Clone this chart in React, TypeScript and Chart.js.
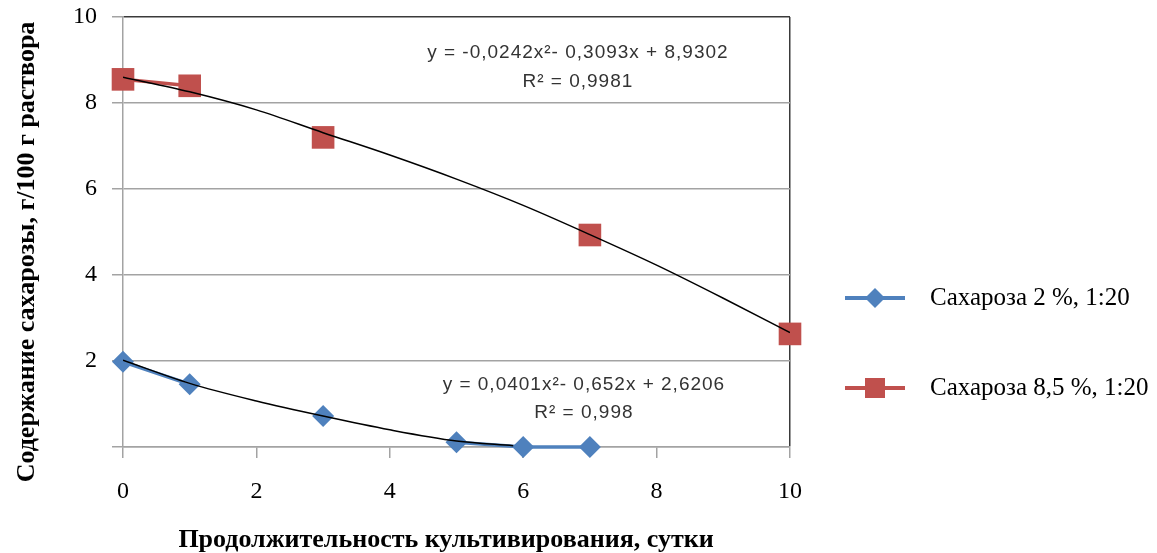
import React, { useEffect, useRef } from 'react';
import { Chart, registerables } from 'chart.js';

Chart.register(...registerables);

const days = [0, 1, 2, 3, 4, 5, 6, 7, 8, 9, 10];
const redValues = [8.55, 8.4, null, 7.2, null, null, null, 4.93, null, null, 2.63];
const blueValues = [1.98, 1.46, null, 0.72, null, 0.11, 0, 0, null, null, null];

const redTrendDays = [0, 1, 2, 3, 4, 5, 6, 7, 8, 9, 10];
const redTrendValues = [8.6, 8.26, 7.84, 7.31, 6.79, 6.23, 5.62, 4.94, 4.23, 3.46, 2.66];
const blueTrendDays = [0, 1, 2, 3, 4, 5, 5.85];
const blueTrendValues = [2.02, 1.48, 1.07, 0.72, 0.4, 0.14, 0.03];

const xTickValues = [0, 2, 4, 6, 8, 10];
const yTickValues = [2, 4, 6, 8, 10];

const seriesLabels = ['Сахароза 2 %, 1:20', 'Сахароза 8,5 %, 1:20'];
const redEquation = ['y = -0,0242x²- 0,3093x + 8,9302', 'R² = 0,9981'];
const blueEquation = ['y = 0,0401x²- 0,652x + 2,6206', 'R² = 0,998'];
const xTitle = 'Продолжительность культивирования, сутки';
const yTitle = 'Содержание сахарозы, г/100 г раствора';

const BLUE = '#4F81BD';
const RED = '#C0504D';
const GRID = '#a3a3a3';
const DARK = '#3a3a3a';

const pts = (xs: number[], ys: (number | null)[]) => xs.map((x, i) => ({ x, y: ys[i] }));

const overlay = {
  id: 'overlay',
  afterDraw(chart: any) {
    const { ctx, chartArea, scales } = chart;
    const x = scales.x;
    const y = scales.y;
    ctx.save();

    // trendline equations
    ctx.fillStyle = '#333';
    ctx.textAlign = 'center';
    ctx.textBaseline = 'middle';
    ctx.font = '19px "Liberation Sans"';
    (ctx as any).letterSpacing = '1px';
    ctx.fillText(redEquation[0], x.getPixelForValue(6.82), y.getPixelForValue(9.16));
    ctx.fillText(redEquation[1], x.getPixelForValue(6.82), y.getPixelForValue(8.49));
    ctx.fillText(blueEquation[0], x.getPixelForValue(6.91), y.getPixelForValue(1.44));
    ctx.fillText(blueEquation[1], x.getPixelForValue(6.91), y.getPixelForValue(0.79));
    (ctx as any).letterSpacing = '0px';

    // legend
    const cx = chartArea.right + 85;
    const rows = [298, 388];
    const colors = [BLUE, RED];
    rows.forEach((ry, i) => {
      ctx.strokeStyle = colors[i];
      ctx.lineWidth = 4;
      ctx.beginPath();
      ctx.moveTo(cx - 30, ry);
      ctx.lineTo(cx + 30, ry);
      ctx.stroke();
      ctx.fillStyle = colors[i];
      ctx.beginPath();
      if (i === 0) {
        ctx.moveTo(cx, ry - 10);
        ctx.lineTo(cx + 10, ry);
        ctx.lineTo(cx, ry + 10);
        ctx.lineTo(cx - 10, ry);
        ctx.closePath();
      } else {
        ctx.rect(cx - 10, ry - 10, 20, 20);
      }
      ctx.fill();
      ctx.fillStyle = '#000';
      ctx.textAlign = 'left';
      ctx.font = '25px "Liberation Serif"';
      ctx.fillText(seriesLabels[i], cx + 55, ry);
    });

    // axis titles
    ctx.fillStyle = '#000';
    ctx.textAlign = 'center';
    ctx.textBaseline = 'middle';
    ctx.font = 'bold 26px "Liberation Serif"';
    ctx.fillText(xTitle, 446, 540);
    ctx.translate(27, 252);
    ctx.rotate(-Math.PI / 2);
    ctx.fillText(yTitle, 0, 0);
    ctx.restore();
  },
};

export default function App() {
  const ref = useRef<HTMLCanvasElement>(null);

  useEffect(() => {
    document.body.style.margin = '0';
    const chart = new Chart(ref.current!, {
      type: 'scatter',
      data: {
        datasets: [
          {
            label: 'trend red',
            data: pts(redTrendDays, redTrendValues),
            showLine: true,
            borderColor: '#000',
            borderWidth: 1.5,
            pointRadius: 0,
            cubicInterpolationMode: 'monotone',
            order: 0,
          },
          {
            label: 'trend blue',
            data: pts(blueTrendDays, blueTrendValues),
            showLine: true,
            borderColor: '#000',
            borderWidth: 1.5,
            pointRadius: 0,
            cubicInterpolationMode: 'monotone',
            order: 0,
          },
          {
            label: seriesLabels[0],
            data: pts(days, blueValues),
            showLine: true,
            spanGaps: false,
            borderColor: BLUE,
            backgroundColor: BLUE,
            borderWidth: 3.5,
            pointStyle: 'rectRot',
            pointRadius: 11,
            pointBorderWidth: 0,
            clip: false,
            order: 1,
          },
          {
            label: seriesLabels[1],
            data: pts(days, redValues),
            showLine: true,
            spanGaps: false,
            borderColor: RED,
            backgroundColor: RED,
            borderWidth: 3.5,
            pointStyle: 'rect',
            pointRadius: 16,
            pointBorderWidth: 0,
            clip: false,
            order: 1,
          },
        ] as any,
      },
      options: {
        animation: false,
        responsive: true,
        maintainAspectRatio: false,
        layout: { padding: { top: 17, right: 367, left: 0, bottom: 0 } },
        plugins: { legend: { display: false }, tooltip: { enabled: false } },
        scales: {
          x: {
            type: 'linear',
            min: 0,
            max: 10,
            afterFit: (s: any) => { s.height = 106; s.paddingLeft = 0; s.paddingRight = 0; },
            afterBuildTicks: (s: any) => { s.ticks = xTickValues.map((v) => ({ value: v })); },
            ticks: {
              font: { family: '"Liberation Serif"', size: 24 },
              color: '#000',
              padding: 19,
              maxRotation: 0,
            },
            grid: {
              color: (c: any) => (c.tick && c.tick.value === 10 ? DARK : 'transparent'),
              tickColor: GRID,
              tickLength: 11,
              lineWidth: 1.5,
            },
            border: { color: GRID, width: 1.5 },
          },
          y: {
            min: 0,
            max: 10,
            afterFit: (s: any) => { s.width = 123; s.paddingTop = 0; s.paddingBottom = 0; },
            afterBuildTicks: (s: any) => { s.ticks = [0, ...yTickValues].map((v) => ({ value: v })); },
            ticks: {
              font: { family: '"Liberation Serif"', size: 24 },
              color: '#000',
              padding: 15,
              callback: (v: any) => (v === 0 ? '' : String(v)),
            },
            grid: {
              color: (c: any) => (c.tick && c.tick.value === 10 ? DARK : GRID),
              tickColor: GRID,
              tickLength: 11,
              lineWidth: 1.5,
            },
            border: { color: GRID, width: 1.5 },
          },
        },
      } as any,
      plugins: [overlay],
    });
    return () => chart.destroy();
  }, []);

  return (
    <div style={{ width: 1157, height: 553, position: 'relative' }}>
      <canvas ref={ref} />
    </div>
  );
}
